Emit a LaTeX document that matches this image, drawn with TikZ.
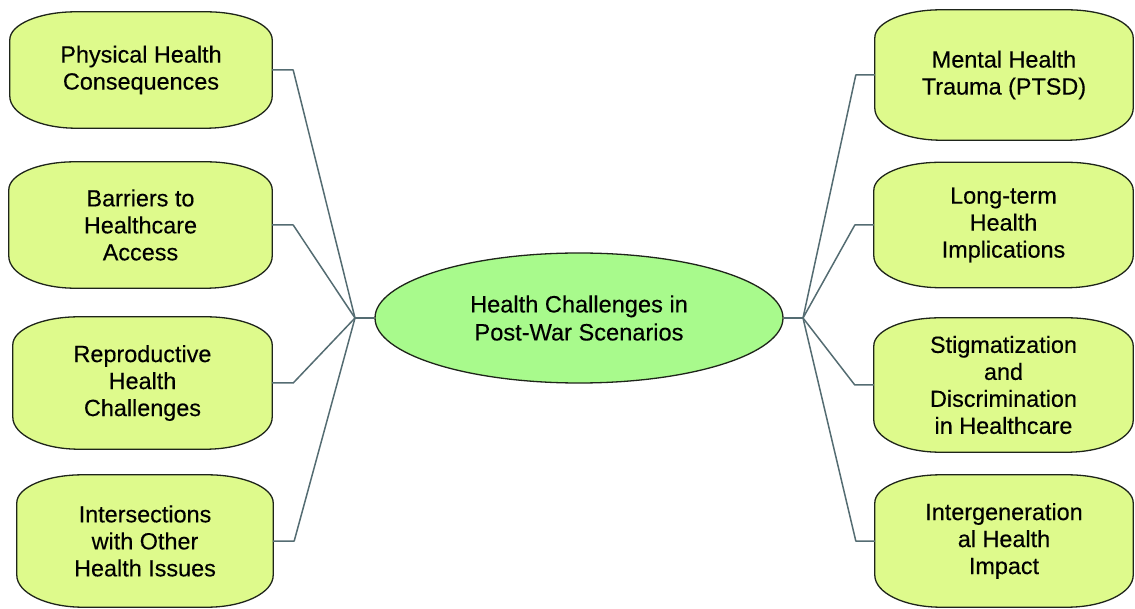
\documentclass[tikz,border=0pt]{standalone}
\usepackage{fontspec}
\setmainfont{Liberation Sans}[FakeBold=0.3]
\usetikzlibrary{shapes.geometric,backgrounds}

\definecolor{leaffill}{RGB}{222,250,140}
\definecolor{rootfill}{RGB}{168,250,140}
\definecolor{edgeline}{RGB}{30,36,26}
\definecolor{wire}{RGB}{84,108,114}

% outline of a leaf box: flat sides, wide elliptical corners
\newcommand\leafoutline[1]{%
  \path[leafshape]
    ([yshift=-28pt]#1.north west)
      arc[start angle=180, end angle=90, x radius=66pt, y radius=28pt]
      -- ([xshift=-66pt]#1.north east)
      arc[start angle=90, end angle=0, x radius=66pt, y radius=28pt]
      -- ([yshift=32pt]#1.south east)
      arc[start angle=0, end angle=-90, x radius=66pt, y radius=32pt]
      -- ([xshift=66pt]#1.south west)
      arc[start angle=270, end angle=180, x radius=66pt, y radius=32pt]
      -- cycle;}

\tikzset{
  leaf/.style 2 args={inner sep=0pt, minimum width=#1pt, minimum height=#2pt,
    align=center, font=\fontsize{23.4}{27}\selectfont, text=black},
  leafshape/.style={fill=leaffill, draw=edgeline, line width=1.3pt},
  root/.style={ellipse, inner sep=0pt, minimum width=408pt, minimum height=130pt,
    fill=rootfill, draw=edgeline, line width=1.3pt, align=center,
    font=\fontsize{23.6}{28}\selectfont, text=black},
  wireline/.style={draw=wire, line width=1.5pt, line join=round}
}

\begin{document}
\begin{tikzpicture}[x=1pt, y=-1pt]
\useasboundingbox (0,0) rectangle (1135,609);

% central topic
\node[root] (core) at (579,318) {Health Challenges in\\Post-War Scenarios};

% left branch
\node[leaf={262}{116}] (phys) at (141,70)    {Physical Health\\Consequences};
\node[leaf={263}{126}] (barr) at (140.5,225) {Barriers to\\Healthcare\\Access};
\node[leaf={259}{132}] (repr) at (142.5,383) {Reproductive\\Health\\Challenges};
\node[leaf={256}{132}] (inter) at (145,541)  {Intersections\\with Other\\Health Issues};

% right branch
\node[leaf={258}{130}] (ment) at (1004,75)    {Mental Health\\Trauma (PTSD)};
\node[leaf={259}{125}] (long) at (1003.5,225) {Long-term\\Health\\Implications};
\node[leaf={259}{134}] (stig) at (1003.5,385) {Stigmatization\\and\\Discrimination\\in Healthcare};
\node[leaf={258}{132}] (gen) at (1004,541)    {Intergeneration\\al Health\\Impact};

\begin{pgfonlayer}{background}
  \leafoutline{phys}\leafoutline{barr}\leafoutline{repr}\leafoutline{inter}
  \leafoutline{ment}\leafoutline{long}\leafoutline{stig}\leafoutline{gen}
\end{pgfonlayer}

% junction points beside the central topic
\coordinate (hubL) at (355,318);
\coordinate (hubR) at (803,318);

\begin{pgfonlayer}{background}
  \draw[wireline] (core.west) -- (hubL);
  \draw[wireline] (core.east) -- (hubR);
  \foreach \n in {phys,barr,repr,inter}
    \draw[wireline] (\n.east) -- ++(21,0) -- (hubL);
  \foreach \n in {ment,long,stig,gen}
    \draw[wireline] (\n.west) -- ++(-19,0) -- (hubR);
\end{pgfonlayer}
\end{tikzpicture}
\end{document}
